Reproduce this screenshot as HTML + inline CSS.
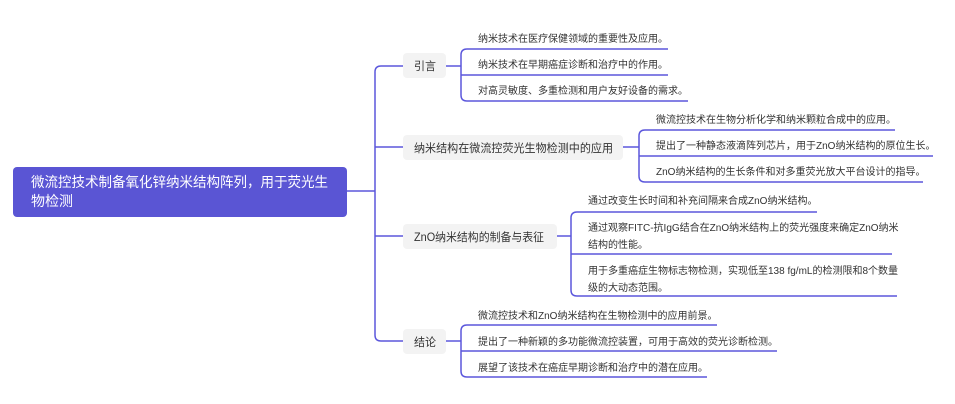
<!DOCTYPE html>
<html><head><meta charset="utf-8"><style>
body{margin:0;background:#fff}
svg{display:block}
text{font-family:"Liberation Sans","Noto Sans CJK SC",sans-serif;fill:#333}
.l{font-size:10px}
.n{font-size:11.5px}
</style></head><body>
<svg width="955" height="404" viewBox="0 0 955 404" xmlns="http://www.w3.org/2000/svg">
<g fill="none" stroke="#5b57dc" stroke-width="1.5">
<path d="M347 191H375"/>
<path d="M403 66H381Q375 66 375 72V335Q375 341 381 341H403"/>
<path d="M375 147H403M375 236H403"/>
<path d="M446 66H461"/>
<path d="M668 49H467Q461 49 461 55V95Q461 101 467 101H688"/>
<path d="M461 75H668"/>
<path d="M623 147H639"/>
<path d="M895 130H645Q639 130 639 136V176Q639 182 645 182H923"/>
<path d="M639 156H933"/>
<path d="M557 236H571"/>
<path d="M817 212H577Q571 212 571 218V290Q571 296 577 296H897"/>
<path d="M571 254H892"/>
<path d="M446 341H461"/>
<path d="M717 325H467Q461 325 461 331V371Q461 377 467 377H707"/>
<path d="M461 351H777"/>
</g>
<rect x="13" y="167" width="334" height="50" rx="4" fill="#5a55d4"/>
<text x="31" y="187" font-size="14" textLength="297" lengthAdjust="spacingAndGlyphs" style="fill:#fff">微流控技术制备氧化锌纳米结构阵列，用于荧光生</text>
<text x="31" y="206" font-size="14" textLength="42" lengthAdjust="spacingAndGlyphs" style="fill:#fff">物检测</text>
<rect x="403" y="53" width="43" height="25" rx="4" fill="#f3f3f3"/>
<text class="n" x="414" y="70" textLength="22" lengthAdjust="spacingAndGlyphs">引言</text>
<rect x="403" y="135" width="220" height="25" rx="4" fill="#f3f3f3"/>
<text class="n" x="414" y="152" textLength="199" lengthAdjust="spacingAndGlyphs">纳米结构在微流控荧光生物检测中的应用</text>
<rect x="403" y="224" width="154" height="25" rx="4" fill="#f3f3f3"/>
<text class="n" x="414" y="241" textLength="130" lengthAdjust="spacingAndGlyphs">ZnO纳米结构的制备与表征</text>
<rect x="403" y="329" width="43" height="25" rx="4" fill="#f3f3f3"/>
<text class="n" x="414" y="346" textLength="22" lengthAdjust="spacingAndGlyphs">结论</text>
<text class="l" x="478" y="42">纳米技术在医疗保健领域的重要性及应用。</text>
<text class="l" x="478" y="68">纳米技术在早期癌症诊断和治疗中的作用。</text>
<text class="l" x="478" y="94">对高灵敏度、多重检测和用户友好设备的需求。</text>
<text class="l" x="656" y="123">微流控技术在生物分析化学和纳米颗粒合成中的应用。</text>
<text class="l" x="656" y="149">提出了一种静态液滴阵列芯片，用于ZnO纳米结构的原位生长。</text>
<text class="l" x="656" y="175">ZnO纳米结构的生长条件和对多重荧光放大平台设计的指导。</text>
<text class="l" x="588" y="204">通过改变生长时间和补充间隔来合成ZnO纳米结构。</text>
<text class="l" x="588" y="231">通过观察FITC-抗IgG结合在ZnO纳米结构上的荧光强度来确定ZnO纳米</text>
<text class="l" x="588" y="248">结构的性能。</text>
<text class="l" x="588" y="274">用于多重癌症生物标志物检测，实现低至138 fg/mL的检测限和8个数量</text>
<text class="l" x="588" y="291">级的大动态范围。</text>
<text class="l" x="478" y="319">微流控技术和ZnO纳米结构在生物检测中的应用前景。</text>
<text class="l" x="478" y="345">提出了一种新颖的多功能微流控装置，可用于高效的荧光诊断检测。</text>
<text class="l" x="478" y="371">展望了该技术在癌症早期诊断和治疗中的潜在应用。</text>
</svg>
</body></html>
